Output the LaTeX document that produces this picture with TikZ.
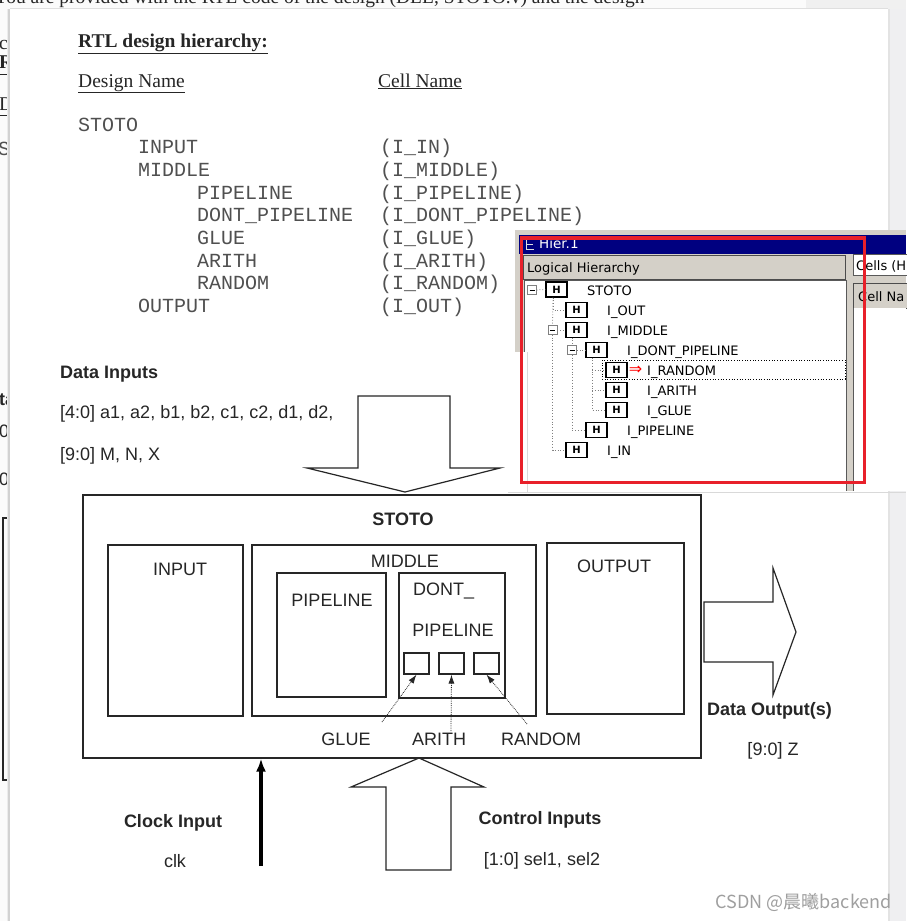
\documentclass[tikz,border=0pt]{standalone}
\usepackage{fontspec}
\setmainfont{Liberation Serif}
\newfontfamily\arialfont{Liberation Sans}
\newfontfamily\courfont{Liberation Mono}
\newfontfamily\guifont{DejaVu Sans}
\newfontfamily\cjkfont{Noto Sans CJK SC}
\usetikzlibrary{arrows.meta}
\definecolor{ink}{HTML}{262626}
\definecolor{listgrey}{HTML}{505050}
\definecolor{winface}{HTML}{D4D0C8}
\definecolor{wintitle}{HTML}{000080}
\definecolor{markred}{HTML}{E8202A}
\definecolor{pageside}{HTML}{EFEFF1}
\tikzset{
  blk/.style={draw=ink, line width=1.2pt, fill=white, inner sep=0pt},
  fatarrow/.style={draw=ink, line width=1.2pt, fill=white, line join=miter},
  pointer/.style={draw=ink, densely dotted, line width=0.8pt, -{Latex[length=9pt,width=6pt]}},
  clockline/.style={draw=black, line width=3.5pt, -{Latex[length=13pt,width=10pt]}},
  sanslbl/.style={font=\arialfont\fontsize{18}{20}\selectfont, text=ink, inner sep=0pt, anchor=base},
  sansbold/.style={font=\arialfont\bfseries\fontsize{18}{20}\selectfont, text=ink, inner sep=0pt, anchor=base},
  serifhead/.style={font=\fontsize{19.5}{22}\selectfont, text=ink, inner sep=0pt, anchor=base west},
  listing/.style={font=\courfont\fontsize{20}{22}\selectfont, text=listgrey, inner sep=0pt, anchor=base west},
  guitext/.style={font=\guifont\fontsize{13}{15}\selectfont, text=black, inner sep=0pt, anchor=base west},
  headbtn/.style={draw=gray!60!black, fill=winface, inner sep=0pt},
  hbox/.style={draw=black, line width=1.2pt, fill=white, minimum width=21pt, minimum height=15pt,
    inner sep=0pt, font=\guifont\bfseries\fontsize{10}{11}\selectfont},
  expander/.style={draw=gray, fill=white, minimum size=9pt, inner sep=0pt,
    path picture={\draw[black] ([xshift=2pt]path picture bounding box.west) -- ([xshift=-2pt]path picture bounding box.east);}},
  treeline/.style={draw=gray, dotted, line width=0.8pt}
}
\begin{document}
\begin{tikzpicture}[x=1pt, y=-1pt]
\useasboundingbox (0,0) rectangle (906,921);
% page underneath
\fill[white!97!gray] (0,0) rectangle (906,921);
\node[serifhead] (oldline) at (-6,3.5) {You are provided with the RTL code of the design (DLL, STOTO.v) and the design};
\node[serifhead] (oldco) at (-1,49) {co};
\node[serifhead, font=\bfseries\fontsize{19.5}{22}\selectfont] (oldrtl) at (-1,68) {\underline{RTL design hierarchy:}};
\node[serifhead] (olddesign) at (-1,110) {\underline{Design Name}};
\node[listing] (oldstoto) at (-2,155) {STOTO};
\node[sansbold, anchor=base west] (olddata) at (-24,405) {Data Inputs};
\node[sanslbl, anchor=base west] (oldbusa) at (-21,437) {[4:0] a1};
\node[sanslbl, anchor=base west] (oldbusb) at (-21,485) {[9:0] M};
\draw[ink, line width=1.2pt] (3,518) rectangle (60,780);
\fill[gray!12] (806,0) rectangle (906,9);

% the page in front
\fill[white] (10,9) rectangle (888,921);
\draw[gray!35, line width=1.5pt] (9,9) -- (9,921);
\draw[gray!15, line width=1.5pt] (7.5,9) -- (7.5,921);
\draw[gray!25, line width=1pt] (10,8.5) -- (888,8.5);
\fill[pageside] (888,9) rectangle (906,921);
\draw[gray!22, line width=2pt] (889,9) -- (889,921);

% hierarchy text
\node[serifhead, font=\bfseries\fontsize{19.5}{22}\selectfont] (title) at (78,47) {\underline{RTL design hierarchy:}};
\node[serifhead] (designhd) at (78,87) {\underline{Design Name}};
\node[serifhead] (cellhd) at (378,87) {\underline{Cell Name}};
\node[listing] (lstoto) at (78,131) {STOTO};
\node[listing] (linput) at (138,153.7) {INPUT};
\node[listing] (lmiddle) at (138,176.4) {MIDDLE};
\node[listing] (lpipe) at (197,199.1) {PIPELINE};
\node[listing] (ldont) at (197,221.8) {DONT\_PIPELINE};
\node[listing] (lglue) at (197,244.5) {GLUE};
\node[listing] (larith) at (197,267.2) {ARITH};
\node[listing] (lrandom) at (197,289.9) {RANDOM};
\node[listing] (loutput) at (138,312.6) {OUTPUT};
\node[listing] (cinput) at (380,153.7) {(I\_IN)};
\node[listing] (cmiddle) at (380,176.4) {(I\_MIDDLE)};
\node[listing] (cpipe) at (380,199.1) {(I\_PIPELINE)};
\node[listing] (cdont) at (380,221.8) {(I\_DONT\_PIPELINE)};
\node[listing] (cglue) at (380,244.5) {(I\_GLUE)};
\node[listing] (carith) at (380,267.2) {(I\_ARITH)};
\node[listing] (crandom) at (380,289.9) {(I\_RANDOM)};
\node[listing] (coutput) at (380,312.6) {(I\_OUT)};

% block diagram
\node[sansbold, anchor=base west] (datain) at (60,378) {Data Inputs};
\node[sanslbl, anchor=base west] (busa) at (60,418) {[4:0] a1, a2, b1, b2, c1, c2, d1, d2,};
\node[sanslbl, anchor=base west] (busb) at (60,460) {[9:0] M, N, X};
\draw[fatarrow] (358,396) -- (450,396) -- (450,468) -- (500,468) -- (405,492) -- (307,468) -- (358,468) -- cycle;

\node[blk, minimum width=618pt, minimum height=263pt] (stoto) at (392,626.5) {};
\node[blk, minimum width=135pt, minimum height=171pt] (input) at (175.5,630.5) {};
\node[blk, minimum width=284pt, minimum height=171pt] (middle) at (394,630.5) {};
\node[blk, minimum width=109pt, minimum height=124pt] (pipeline) at (331.5,635) {};
\node[blk, minimum width=106pt, minimum height=125pt] (dontpipe) at (452,635.5) {};
\node[blk, minimum width=25pt, minimum height=21pt] (glue) at (416.5,663.5) {};
\node[blk, minimum width=25pt, minimum height=21pt] (arith) at (451.5,663.5) {};
\node[blk, minimum width=25pt, minimum height=21pt] (random) at (486.5,663.5) {};
\node[blk, minimum width=137pt, minimum height=171pt] (output) at (615.5,628.5) {};

\node[sansbold] (stotolbl) at (403,525) {STOTO};
\node[sanslbl] (inputlbl) at (180,575) {INPUT};
\node[sanslbl] (middlelbl) at (405,567) {MIDDLE};
\node[sanslbl] (pipelbl) at (332,606) {PIPELINE};
\node[sanslbl, anchor=base west] (dontlbl) at (413,595) {DONT\_};
\node[sanslbl] (dontpipelbl) at (453,636) {PIPELINE};
\node[sanslbl] (outputlbl) at (614,572) {OUTPUT};
\node[sanslbl] (gluelbl) at (346,745) {GLUE};
\node[sanslbl] (arithlbl) at (439,745) {ARITH};
\node[sanslbl] (randomlbl) at (541,745) {RANDOM};

\coordinate (gluetail) at (382,722);
\coordinate (arithtail) at (451,731);
\coordinate (randtail) at (527,724);
\draw[pointer] (gluetail) -- (glue.south);
\draw[pointer] (arithtail) -- (arith.south);
\draw[pointer] (randtail) -- (random.south);

\draw[fatarrow] (704,602) -- (773,602) -- (773,568) -- (796,632) -- (773,695) -- (773,662) -- (704,662) -- cycle;
\node[sansbold] (dataout) at (769.5,715) {Data Output(s)};
\node[sanslbl] (busz) at (773,755) {[9:0] Z};

\coordinate (clktail) at (261,866);
\draw[clockline] (clktail) -- (clktail |- stoto.south);
\node[sansbold] (clkin) at (173,827) {Clock Input};
\node[sanslbl] (clk) at (175,867) {clk};

\draw[fatarrow] (386,870) -- (451,870) -- (451,787) -- (484,787) -- (419,758) -- (351,787) -- (386,787) -- cycle;
\node[sansbold] (ctrlin) at (540,824) {Control Inputs};
\node[sanslbl] (sel) at (542,865) {[1:0] sel1, sel2};

% Hier.1 window
\fill[winface] (515,230) rectangle (906,491);
\fill[wintitle] (519,235) rectangle (906,254);
\draw[white!75!gray, line width=0.8pt] (526,239) -- (526,249) -- (534,249) (526,244) -- (533,244);
\node[guitext, text=white, font=\guifont\fontsize{13.5}{15}\selectfont] (htitle) at (539,248) {Hier.1};
\node[headbtn, anchor=north west, minimum width=322pt, minimum height=24pt] (hlogic) at (523,255) {};
\node[guitext] (tlogic) at (527,272) {Logical Hierarchy};
\fill[white] (524,280) rectangle (846,491);
\draw[gray!70!black] (524,491) -- (524,280) -- (846,280) -- (846,491);

\node[draw=gray!70!black, fill=white, anchor=north west, minimum width=60pt, minimum height=21pt, inner sep=0pt] (hcells) at (853,254) {};
\node[guitext] (tcells) at (856,270) {Cells (H};
\node[headbtn, anchor=north west, minimum width=60pt, minimum height=25pt] (hcellname) at (853,283) {};
\node[guitext] (tcellname) at (858,301) {Cell Na};
\fill[white] (854,308) rectangle (906,491);
\draw[gray!70!black] (853.5,308) -- (853.5,491);

\node[expander] (e0) at (532,290) {};
\node[expander] (e1) at (552.5,330) {};
\node[expander] (e2) at (572,350) {};
\node[hbox] (tstoto) at (556.5,289.5) {H};
\node[hbox] (tout) at (576.5,310) {H};
\node[hbox] (tmiddle) at (576.5,330) {H};
\node[hbox] (tdont) at (596.5,350) {H};
\node[hbox] (trandom) at (616.5,370) {H};
\node[hbox] (tarith) at (616.5,390) {H};
\node[hbox] (tglue) at (616.5,410) {H};
\node[hbox] (tpipe) at (596.5,430) {H};
\node[hbox] (tin) at (576.5,450) {H};
\coordinate (v0) at (553,297.5);
\coordinate (v1) at (572,337.5);
\coordinate (v2) at (592,357.5);
\draw[treeline] (e0.east) -- (tstoto.west);
\draw[treeline] (v0) |- (tout.west);
\draw[treeline] (v0) -- (e1.north);
\draw[treeline] (e1.east) -- (tmiddle.west);
\draw[treeline] (e1.south) |- (tin.west);
\draw[treeline] (v1) -- (e2.north);
\draw[treeline] (e2.east) -- (tdont.west);
\draw[treeline] (e2.south) |- (tpipe.west);
\draw[treeline] (v2) |- (tglue.west);
\draw[treeline] (v2 |- trandom) -- (trandom.west);
\draw[treeline] (v2 |- tarith) -- (tarith.west);
\draw[black, dotted, line width=0.7pt] (602,360) rectangle (845,379);
\node[guitext] (nstoto) at (587,295) {STOTO};
\node[guitext] (nout) at (607,315) {I\_OUT};
\node[guitext] (nmiddle) at (607,335) {I\_MIDDLE};
\node[guitext] (ndont) at (627,355) {I\_DONT\_PIPELINE};
\node[guitext, text=red, anchor=center, font=\guifont\fontsize{16}{18}\selectfont] (nsel) at (635.5,370) {⇒};
\node[guitext] (nrandom) at (647,375) {I\_RANDOM};
\node[guitext] (narith) at (647,395) {I\_ARITH};
\node[guitext] (nglue) at (647,415) {I\_GLUE};
\node[guitext] (npipe) at (627,435) {I\_PIPELINE};
\node[guitext] (nin) at (607,455) {I\_IN};

\fill[white] (508,352) rectangle (527,493);
\draw[gray!30, line width=1pt] (527,352) -- (527,492);
\draw[gray!30, line width=1pt] (508,492) -- (906,492);
\draw[markred, line width=3.5pt] (521.5,238) rectangle (864.5,482.5);

\node[font=\cjkfont\fontsize{18}{20}\selectfont, text=gray!75, inner sep=0pt, anchor=base east] (mark) at (892,908) {CSDN @晨曦backend};
\end{tikzpicture}
\end{document}
